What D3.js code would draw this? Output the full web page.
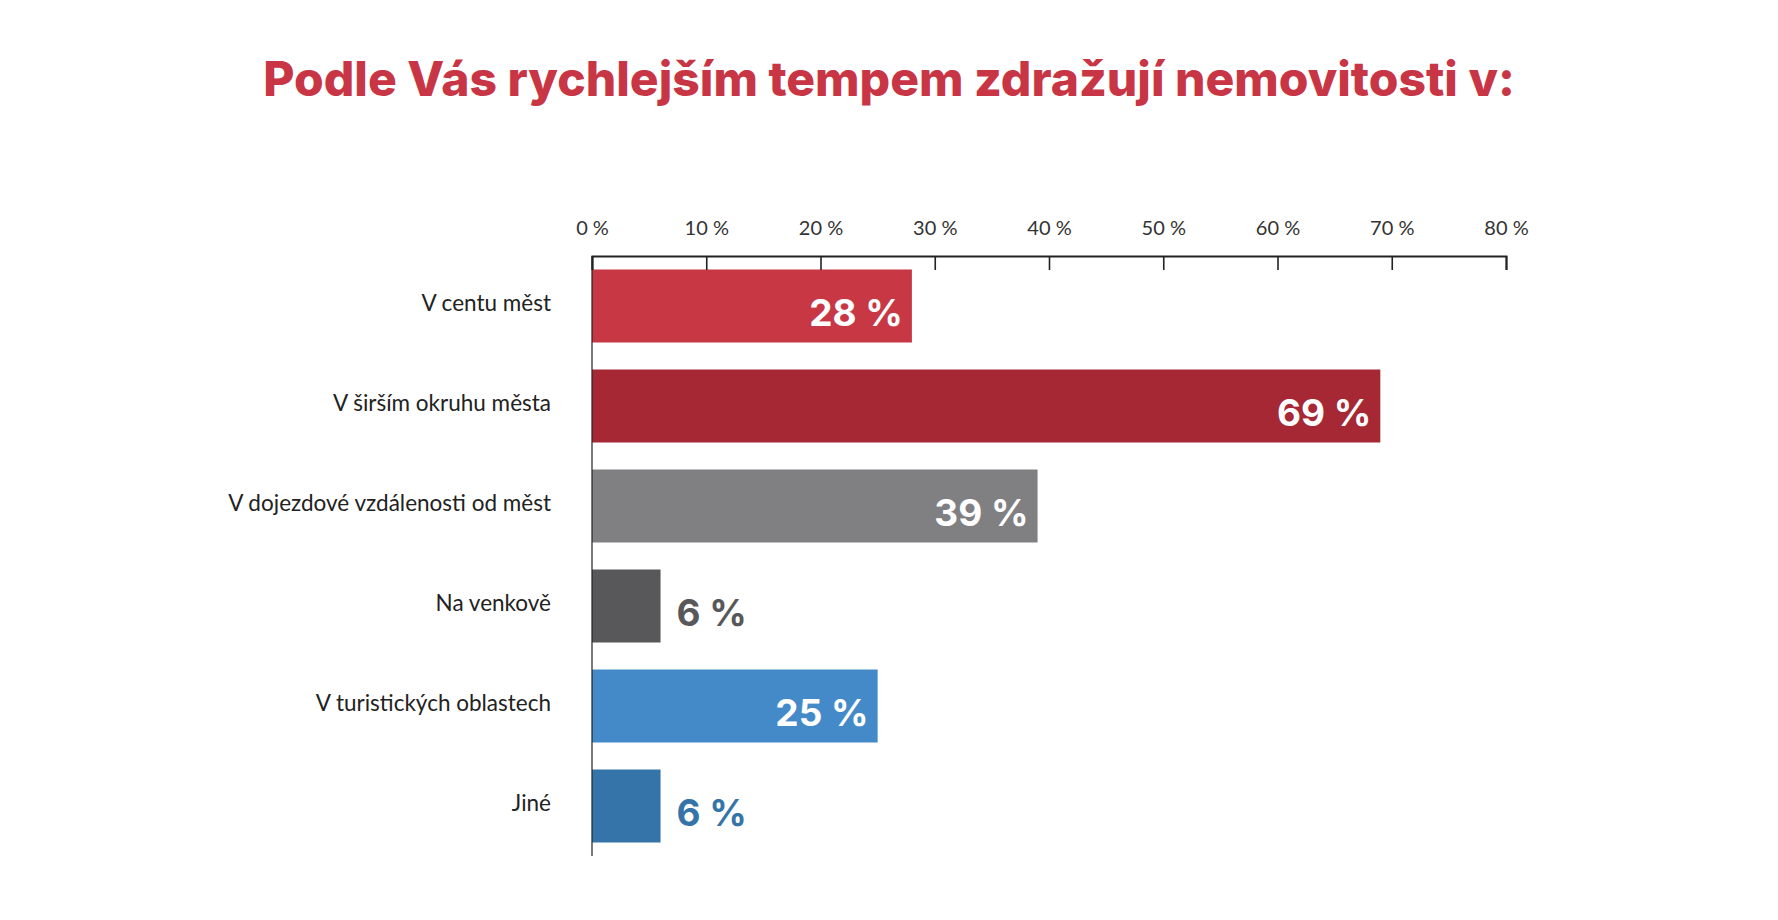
<!DOCTYPE html>
<html>
<head>
<meta charset="utf-8">
<script src="https://cdn.jsdelivr.net/npm/d3@7"></script>
<style>
  body { margin: 0; background: #fff; }
  svg { display: block; }
</style>
</head>
<body>
<div id="container"></div>
<script>
/* ---------- CONSTANTS AND GLOBALS ---------- */
const width = 1778,
  height = 920,
  margin = { top: 256, bottom: 64, left: 592, right: 272 };

const titleText = "Podle Vás rychlejším tempem zdražují nemovitosti v:";

/* ---------- DATA ---------- */
const categories = [
  "V centu měst",
  "V širším okruhu města",
  "V dojezdové vzdálenosti od měst",
  "Na venkově",
  "V turistických oblastech",
  "Jiné"
];
const values = [28, 69, 39, 6, 25, 6];
const barColors = ["#c83744", "#a62834", "#808083", "#58585a", "#448ac8", "#3574a8"];
const tickValues = [0, 10, 20, 30, 40, 50, 60, 70, 80];

const data = categories.map((c, i) => ({ cat: c, value: values[i], color: barColors[i] }));

/* ---------- SCALES ---------- */
const xScale = d3.scaleLinear()
  .domain([0, 80])
  .range([margin.left, width - margin.right]);

const yScale = d3.scaleBand()
  .domain(categories)
  .range([margin.top, height - margin.bottom])
  .paddingInner(0.27)
  .paddingOuter(0.135);

/* ---------- SVG ---------- */
const svg = d3.select("#container")
  .append("svg")
  .attr("width", width)
  .attr("height", height);

// title
svg.append("text")
  .attr("x", width / 2)
  .attr("y", 96)
  .attr("text-anchor", "middle")
  .style("font-family", "Inter, 'Noto Sans', sans-serif")
  .style("font-weight", 800)
  .style("font-size", "48px")
  .style("fill", "#c83545")
  .text(titleText);

// bars
svg.selectAll("rect.bar")
  .data(data)
  .join("rect")
  .attr("class", "bar")
  .attr("x", xScale(0))
  .attr("y", d => yScale(d.cat))
  .attr("width", d => xScale(d.value) - xScale(0))
  .attr("height", yScale.bandwidth())
  .style("fill", d => d.color);

// value labels: inside for long bars, outside for short ones
svg.selectAll("text.value")
  .data(data)
  .join("text")
  .attr("class", "value")
  .attr("x", d => d.value > 10 ? xScale(d.value) - 9 : xScale(d.value) + 16)
  .attr("y", d => yScale(d.cat) + yScale.bandwidth() / 2 + 7)
  .attr("dy", "0.36em")
  .attr("text-anchor", d => d.value > 10 ? "end" : "start")
  .style("font-family", "Inter, 'Noto Sans', sans-serif")
  .style("font-weight", 700)
  .style("font-size", "37px")
  .style("fill", d => d.value > 10 ? "#fff" : d.color)
  .text(d => d.value + " %");

// category labels
svg.selectAll("text.cat")
  .data(data)
  .join("text")
  .attr("class", "cat")
  .attr("x", 551)
  .attr("y", d => yScale(d.cat) + yScale.bandwidth() / 2 - 3)
  .attr("dy", "0.35em")
  .attr("text-anchor", "end")
  .style("font-family", "Lato, sans-serif")
  .style("font-size", "22.5px")
  .style("fill", "#222")
  .text(d => d.cat);

// vertical baseline
svg.append("line")
  .attr("x1", xScale(0))
  .attr("x2", xScale(0))
  .attr("y1", margin.top)
  .attr("y2", height - margin.bottom)
  .style("stroke", "#222")
  .style("stroke-width", 1.2);

// top axis, ticks pointing down
const xAxis = d3.axisTop(xScale)
  .tickValues(tickValues)
  .tickSize(-14)
  .tickSizeOuter(-14)
  .tickPadding(21)
  .tickFormat(d => d + " %");

const axisG = svg.append("g")
  .attr("transform", `translate(0,${margin.top})`)
  .call(xAxis);

axisG.select(".domain")
  .style("stroke", "#222")
  .style("stroke-width", 2);
axisG.selectAll(".tick line")
  .style("stroke", "#222")
  .style("stroke-width", 1.6);
axisG.selectAll(".tick text")
  .style("font-family", "Lato, sans-serif")
  .style("font-size", "20px")
  .style("fill", "#333");
</script>
</body>
</html>
